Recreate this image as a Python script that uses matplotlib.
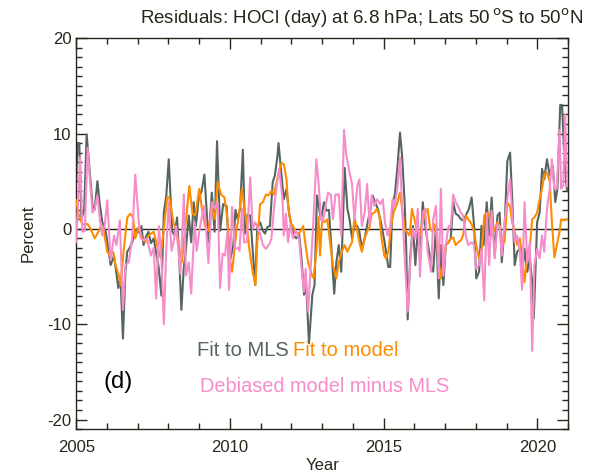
import matplotlib
matplotlib.use('Agg')
import matplotlib.pyplot as plt
from matplotlib.ticker import MultipleLocator

plt.rcParams['font.family'] = ['Liberation Sans', 'DejaVu Sans']
plt.rcParams['axes.unicode_minus'] = False

# Fit to MLS (decimal year, percent)
mls_t = [2005.00, 2005.04, 2005.10, 2005.17, 2005.26, 2005.34, 2005.44, 2005.53, 2005.60, 2005.69,
         2005.77, 2005.85, 2005.96, 2006.04, 2006.12, 2006.23, 2006.30, 2006.37, 2006.44, 2006.52,
         2006.60, 2006.66, 2006.74, 2006.82, 2006.90, 2006.98, 2007.07, 2007.12, 2007.19, 2007.27,
         2007.35, 2007.43, 2007.52, 2007.60, 2007.68, 2007.77, 2007.85, 2007.93, 2008.01, 2008.12,
         2008.20, 2008.28, 2008.35, 2008.42, 2008.50, 2008.55, 2008.66, 2008.74, 2008.82, 2008.89,
         2008.98, 2009.08, 2009.17, 2009.24, 2009.30, 2009.41, 2009.50, 2009.58, 2009.68, 2009.78,
         2009.89, 2009.99, 2010.11, 2010.18, 2010.25, 2010.33, 2010.42, 2010.49, 2010.57, 2010.66,
         2010.74, 2010.82, 2010.89, 2010.98, 2011.07, 2011.14, 2011.22, 2011.30, 2011.39, 2011.46,
         2011.54, 2011.58, 2011.68, 2011.75, 2011.84, 2011.92, 2012.00, 2012.08, 2012.16, 2012.25,
         2012.32, 2012.41, 2012.48, 2012.57, 2012.68, 2012.75, 2012.83, 2012.96, 2013.06, 2013.14,
         2013.22, 2013.30, 2013.39, 2013.46, 2013.54, 2013.62, 2013.73, 2013.82, 2013.89, 2013.97,
         2014.05, 2014.14, 2014.21, 2014.29, 2014.38, 2014.48, 2014.57, 2014.64, 2014.72, 2014.81,
         2014.91, 2015.02, 2015.11, 2015.15, 2015.21, 2015.29, 2015.36, 2015.45, 2015.53, 2015.60,
         2015.68, 2015.73, 2015.78, 2015.86, 2015.95, 2016.03, 2016.11, 2016.18, 2016.27, 2016.35,
         2016.43, 2016.54, 2016.61, 2016.70, 2016.79, 2016.86, 2016.94, 2017.02, 2017.11, 2017.18,
         2017.26, 2017.34, 2017.43, 2017.51, 2017.58, 2017.67, 2017.77, 2017.86, 2017.94, 2018.01,
         2018.10, 2018.18, 2018.25, 2018.35, 2018.43, 2018.51, 2018.61, 2018.70, 2018.77, 2018.84,
         2018.93, 2019.02, 2019.11, 2019.18, 2019.26, 2019.34, 2019.43, 2019.50, 2019.58, 2019.67,
         2019.75, 2019.83, 2019.88, 2019.99, 2020.07, 2020.15, 2020.22, 2020.31, 2020.40, 2020.50,
         2020.58, 2020.65, 2020.74, 2020.80, 2020.88, 2020.96]
mls_v = [5.0, 9.0, 9.0, 1.0, 2.0, 9.9, 6.0, 2.5, 2.0, 5.0,
         2.5, 0.7, -0.3, -2.0, -3.8, -2.8, -4.5, -6.2, -5.0, -11.5,
         -4.5, -2.4, -2.0, -1.4, -0.5, 0.0, -0.5, 0.3, -1.7, -0.8,
         -0.3, -1.5, -1.0, -2.5, -4.0, -7.0, 1.7, 3.5, 7.3, -0.2,
         -0.7, 1.2, -3.0, -8.5, -4.0, -2.8, 1.4, -1.4, 2.8, 0.3,
         3.1, 4.0, 5.7, 2.0, -1.4, 3.8, -0.3, 9.2, -0.2, 2.6,
         2.4, -3.5, -1.7, 2.0, 1.0, 2.1, 8.3, -0.5, 1.5, 1.4,
         -2.3, -5.9, 0.3, 0.7, -0.2, -0.5, 0.2, 0.3, 4.9, 5.6,
         7.5, 9.0, 5.6, 3.1, 4.2, 1.7, 0.3, -0.7, -1.0, -0.6,
         -2.8, -6.9, -5.9, -12.0, -6.9, -5.9, 3.5, 1.0, 2.8, 1.9,
         2.0, -2.1, -6.8, -3.5, -1.7, -4.5, 6.4, 2.1, 1.0, -1.0,
         0.3, 0.3, -0.3, -2.1, -1.0, 0.7, 2.1, 3.5, 2.8, 2.1,
         0.7, -1.2, -3.1, -4.0, -4.0, 2.8, 3.5, 6.6, 10.1, 7.6,
         2.8, -1.7, -9.5, -3.1, 0.3, -3.8, 0.0, -3.1, 2.8, 0.3,
         -1.4, -3.8, -4.5, 0.3, -7.3, -1.7, -5.9, -1.7, -1.4, -1.0,
         2.8, 1.6, 1.4, 1.0, 0.9, 1.4, 2.1, 3.3, 0.3, -5.2,
         -4.5, 0.3, -1.7, 2.8, -0.7, 3.3, -2.8, 1.4, 1.7, -3.5,
         0.0, 7.1, 8.0, 3.1, -3.8, -2.4, -2.1, -4.9, -2.1, -4.5,
         -3.1, -5.6, -9.4, 0.7, 1.7, 6.3, 5.2, 7.3, 5.6, 6.6,
         2.8, 4.2, 13.0, 13.0, 7.0, 4.0]

# Fit to model
mod_t = [2005.00, 2005.10, 2005.20, 2005.37, 2005.47, 2005.60, 2005.74, 2005.80, 2005.90, 2006.01,
         2006.10, 2006.20, 2006.28, 2006.39, 2006.44, 2006.55, 2006.66, 2006.76, 2006.85, 2006.92,
         2007.03, 2007.14, 2007.25, 2007.35, 2007.52, 2007.62, 2007.74, 2007.85, 2007.96, 2008.03,
         2008.17, 2008.25, 2008.33, 2008.44, 2008.55, 2008.68, 2008.78, 2008.87, 2009.00, 2009.09,
         2009.19, 2009.30, 2009.41, 2009.51, 2009.60, 2009.71, 2009.82, 2009.92, 2009.99, 2010.07,
         2010.21, 2010.29, 2010.39, 2010.46, 2010.55, 2010.63, 2010.74, 2010.83, 2010.89, 2010.98,
         2011.07, 2011.17, 2011.25, 2011.35, 2011.43, 2011.52, 2011.60, 2011.68, 2011.75, 2011.84,
         2011.89, 2011.97, 2012.05, 2012.14, 2012.25, 2012.38, 2012.46, 2012.54, 2012.65, 2012.72,
         2012.81, 2012.88, 2012.93, 2013.00, 2013.09, 2013.17, 2013.28, 2013.35, 2013.46, 2013.54,
         2013.64, 2013.73, 2013.82, 2013.89, 2013.97, 2014.05, 2014.14, 2014.21, 2014.29, 2014.38,
         2014.46, 2014.54, 2014.61, 2014.70, 2014.78, 2014.86, 2014.93, 2015.02, 2015.07, 2015.15,
         2015.24, 2015.32, 2015.43, 2015.53, 2015.60, 2015.68, 2015.75, 2015.84, 2015.92, 2016.00,
         2016.07, 2016.18, 2016.27, 2016.35, 2016.43, 2016.51, 2016.57, 2016.65, 2016.72, 2016.79,
         2016.86, 2016.94, 2017.02, 2017.11, 2017.18, 2017.26, 2017.34, 2017.43, 2017.51, 2017.58,
         2017.67, 2017.75, 2017.86, 2017.94, 2018.01, 2018.10, 2018.18, 2018.27, 2018.35, 2018.43,
         2018.51, 2018.61, 2018.70, 2018.77, 2018.86, 2018.93, 2019.02, 2019.11, 2019.18, 2019.26,
         2019.34, 2019.43, 2019.50, 2019.58, 2019.67, 2019.75, 2019.83, 2019.90, 2019.99, 2020.07,
         2020.15, 2020.22, 2020.31, 2020.40, 2020.47, 2020.55, 2020.63, 2020.72, 2020.77, 2020.85,
         2020.96]
mod_v = [3.0, 1.2, 0.5, 0.5, 0.0, -1.0, -0.2, 0.3, -0.3, -2.4,
         -2.8, -2.4, -3.8, -4.9, -5.9, -2.1, 1.2, 1.6, 1.2, -1.0,
         0.2, -1.0, -1.4, -0.7, -0.3, -1.6, -3.0, 0.0, 3.3, 3.3,
         0.5, 0.0, -1.7, -3.5, 0.3, 4.5, 1.6, 1.4, 4.2, 2.1,
         0.3, -0.2, 2.3, 1.0, 4.9, 3.6, 3.3, 1.0, -3.0, -4.5,
         -0.3, 1.4, 4.2, 2.4, 0.3, -2.1, -4.5, -5.9, -1.4, 2.6,
         2.8, 3.6, 3.5, 4.0, 3.6, 4.9, 6.1, 6.9, 6.8, 5.2,
         2.4, 0.7, 0.3, -0.3, -0.5, 0.3, -1.7, -3.5, -4.7, -5.2,
         -2.4, 1.2, -2.8, 1.0, 0.7, 1.0, -2.1, -3.8, -5.2, -3.5,
         -2.4, -1.7, -2.4, -1.9, -1.4, 1.2, -0.2, -1.4, -2.4, -1.0,
         -0.3, 0.2, 1.6, 1.7, 2.1, 1.4, -1.0, -2.8, -3.1, -2.4,
         0.3, 1.7, 2.6, 3.8, 2.1, 0.0, -0.3, -0.7, 2.1, 1.0,
         0.0, -0.7, 0.7, 1.7, 2.1, 0.0, -0.2, 0.5, -1.0, -3.5,
         -5.2, -3.8, -1.7, -1.4, -1.0, -0.9, -1.7, -1.4, -1.2, -0.7,
         1.4, 1.0, 0.5, -0.3, -1.7, -3.1, -2.8, 1.4, 1.7, 1.5,
         -0.7, 0.0, 0.7, 0.3, -1.4, -1.4, 2.8, 2.3, 0.7, -0.3,
         -1.7, -1.0, -2.8, -5.6, -2.8, -2.1, 1.0, 1.2, 1.7, 3.1,
         4.2, 5.7, 5.9, 5.0, 0.7, -3.0, -1.7, -0.3, 1.0, 0.9,
         1.0]

# Debiased model minus MLS
diff_t = [2005.00, 2005.06, 2005.13, 2005.20, 2005.28, 2005.37, 2005.45, 2005.53, 2005.60, 2005.69,
          2005.77, 2005.85, 2005.93, 2006.01, 2006.12, 2006.23, 2006.31, 2006.42, 2006.52, 2006.60,
          2006.71, 2006.82, 2006.92, 2007.03, 2007.10, 2007.19, 2007.30, 2007.43, 2007.52, 2007.60,
          2007.69, 2007.77, 2007.85, 2007.93, 2008.01, 2008.10, 2008.17, 2008.25, 2008.39, 2008.50,
          2008.57, 2008.66, 2008.74, 2008.85, 2008.92, 2009.03, 2009.10, 2009.17, 2009.30, 2009.41,
          2009.51, 2009.60, 2009.68, 2009.76, 2009.84, 2009.92, 2009.97, 2010.07, 2010.16, 2010.27,
          2010.31, 2010.39, 2010.46, 2010.55, 2010.66, 2010.74, 2010.82, 2010.89, 2010.98, 2011.07,
          2011.17, 2011.28, 2011.35, 2011.43, 2011.52, 2011.60, 2011.71, 2011.75, 2011.82, 2011.89,
          2011.97, 2012.05, 2012.14, 2012.25, 2012.32, 2012.41, 2012.46, 2012.54, 2012.61, 2012.70,
          2012.81, 2012.88, 2012.96, 2013.03, 2013.11, 2013.19, 2013.28, 2013.35, 2013.43, 2013.54,
          2013.62, 2013.71, 2013.78, 2013.89, 2013.97, 2014.05, 2014.14, 2014.21, 2014.29, 2014.38,
          2014.46, 2014.54, 2014.61, 2014.70, 2014.78, 2014.89, 2014.97, 2015.04, 2015.13, 2015.21,
          2015.29, 2015.36, 2015.45, 2015.53, 2015.60, 2015.68, 2015.78, 2015.86, 2015.95, 2016.03,
          2016.11, 2016.18, 2016.27, 2016.35, 2016.43, 2016.54, 2016.61, 2016.70, 2016.79, 2016.86,
          2016.94, 2017.02, 2017.11, 2017.18, 2017.26, 2017.34, 2017.43, 2017.51, 2017.58, 2017.67,
          2017.75, 2017.86, 2017.94, 2018.01, 2018.10, 2018.18, 2018.27, 2018.35, 2018.43, 2018.51,
          2018.61, 2018.70, 2018.77, 2018.84, 2018.93, 2019.02, 2019.11, 2019.18, 2019.26, 2019.34,
          2019.43, 2019.50, 2019.58, 2019.67, 2019.75, 2019.83, 2019.90, 2019.99, 2020.07, 2020.15,
          2020.22, 2020.31, 2020.40, 2020.47, 2020.55, 2020.63, 2020.72, 2020.77, 2020.84, 2020.90,
          2020.96]
diff_v = [-1.4, 3.0, 7.5, -0.3, -0.2, 8.5, 5.0, 1.7, 2.1, 3.5,
          1.0, -0.7, 0.5, 3.0, -3.3, -0.7, -1.7, 0.9, -8.5, -3.8,
          -3.5, -1.0, 5.7, 1.0, -1.0, -1.2, -1.0, -2.8, -2.0, -7.3,
          0.3, -3.0, -10.0, -2.0, 2.8, -2.3, -1.4, 0.3, -4.7, 3.6,
          -4.9, -3.5, -6.8, 0.7, -2.3, 0.3, 1.5, 2.4, -3.6, 2.8,
          2.1, 2.8, -6.2, -2.6, -2.8, -0.3, -6.4, 2.3, -2.1, -2.0,
          -2.3, 2.1, -1.4, -1.4, 5.4, 0.0, 0.7, 0.2, -0.5, -1.7,
          -2.1, -1.6, -1.0, 2.1, 4.5, 6.3, 3.1, -0.7, 1.6, -1.4,
          0.5, -1.0, -0.2, -1.0, -3.8, -6.6, -4.2, -8.7, -4.9, 0.0,
          7.3, 4.9, 1.0, 0.8, 2.4, 3.8, 3.6, 1.0, 3.6, 3.6,
          -0.7, 10.4, 7.8, 5.9, 4.7, 1.0, 4.5, 5.2, 0.3, 1.7,
          4.7, 0.5, 3.5, 2.4, 3.1, 2.6, 3.1, 0.7, -0.7, 0.3,
          3.1, 2.4, 4.5, 7.5, 2.1, -2.8, -8.7, -3.8, 0.0, -1.0,
          2.1, -5.0, 1.7, 2.1, -2.4, -4.5, 1.0, 2.4, -5.2, 4.2,
          -4.9, -1.7, 0.3, 0.2, 3.6, 2.8, 2.3, 1.7, 1.4, -0.7,
          -1.7, -1.4, -1.7, -4.2, -3.8, -2.1, -7.5, 1.6, -3.8, 1.9,
          -3.1, 0.5, 0.3, -2.8, 0.7, 3.1, 5.2, 1.4, -1.4, -0.7,
          -2.4, -6.4, 2.8, -3.5, -1.4, -12.8, -3.8, -2.1, -3.1, -0.7,
          -2.4, 2.1, 4.2, 7.3, 4.2, 4.2, 10.4, 4.2, 4.5, 12.0,
          4.5]

gray = '#56655f'
orange = '#ff8c00'
pink = '#f78ccb'
ink = '#26261a'

fig = plt.figure(figsize=(6.0, 4.72), dpi=100)
ax = fig.add_axes([0.127, 0.091, 0.82, 0.828])

ax.axhline(0, color=ink, lw=1.0, zorder=1)
ax.plot(mls_t, mls_v, color=gray, lw=1.5, zorder=2)
ax.plot(mod_t, mod_v, color=orange, lw=1.5, zorder=3)
ax.plot(diff_t, diff_v, color=pink, lw=1.5, zorder=4)

ax.set_xlim(2005, 2021)
ax.set_ylim(-21, 20)
ax.xaxis.set_major_locator(MultipleLocator(5))
ax.xaxis.set_minor_locator(MultipleLocator(1))
ax.yaxis.set_major_locator(MultipleLocator(10))
ax.yaxis.set_minor_locator(MultipleLocator(1))
ax.tick_params(which='both', direction='in', top=True, right=True, colors=ink,
               labelsize=12, width=1.0)
ax.tick_params(which='major', length=8)
ax.tick_params(which='minor', length=4)
ax.tick_params(axis='x', pad=8)
for s in ax.spines.values():
    s.set_color(ink)
    s.set_linewidth(1.0)

ax.set_xlabel('Year', fontsize=12, color=ink, labelpad=2)
ax.set_ylabel('Percent', fontsize=12, color=ink, labelpad=8)

fig.text(0.603, 0.962, 'Residuals: HOCl (day) at 6.8 hPa; Lats 50$\\,^{\\rm o}$S to 50$^{\\rm o}$N',
         ha='center', va='center', fontsize=13.5, color=ink)

ax.text(0.246, 0.202, 'Fit to MLS', transform=ax.transAxes, color=gray, fontsize=14.5, va='center')
ax.text(0.441, 0.202, 'Fit to model', transform=ax.transAxes, color=orange, fontsize=14.5, va='center')
ax.text(0.252, 0.110, 'Debiased model minus MLS', transform=ax.transAxes, color=pink, fontsize=14.3,
        va='center')
ax.text(0.055, 0.120, '(d)', transform=ax.transAxes, color='black', fontsize=17, va='center')

fig.savefig('out.png', dpi=100)
